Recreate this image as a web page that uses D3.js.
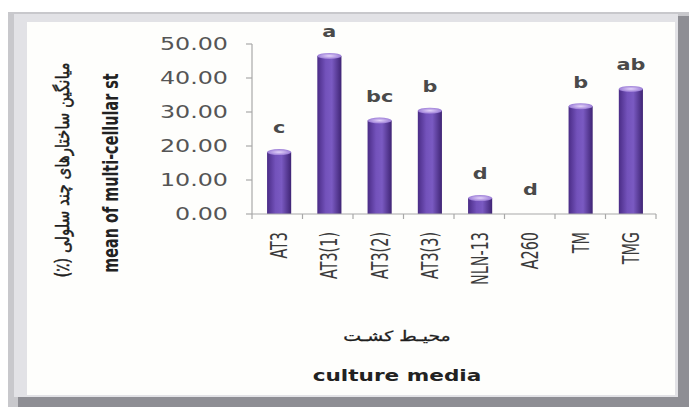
<!DOCTYPE html>
<html>
<head>
<meta charset="utf-8">
<script src="https://cdn.jsdelivr.net/npm/d3@7"></script>
<style>
    html, body { margin: 0; padding: 0; background: #ffffff; }
    svg { display: block; }
</style>
</head>
<body>
<svg id="chart" width="689" height="407"></svg>
<script>
// 数据
const categories = ["AT3", "AT3(1)", "AT3(2)", "AT3(3)", "NLN-13", "A260", "TM", "TMG"];
const values = [18.2, 46.5, 27.5, 30.4, 4.7, 0, 31.7, 36.8];
const letters = ["c", "a", "bc", "b", "d", "d", "b", "ab"];
const yTicks = [0, 10, 20, 30, 40, 50];

const svg = d3.select("#chart");
const W = 689, H = 407;
const SX = 1.4; // 原图水平拉伸

// 画框
svg.append("rect").attr("x", 0).attr("y", 0).attr("width", W).attr("height", H).attr("fill", "#ffffff");
svg.append("rect").attr("x", 8).attr("y", 12).attr("width", 681).attr("height", 395).attr("fill", "#c8c8cc");
svg.append("rect").attr("x", 18).attr("y", 16).attr("width", 671).attr("height", 391).attr("fill", "#8e8e94");
svg.append("rect").attr("x", 14).attr("y", 14).attr("width", 664).attr("height", 383).attr("fill", "#e2e2e6");
svg.append("rect").attr("x", 27).attr("y", 22).attr("width", 648).attr("height", 373).attr("fill", "#fefefc");

// 比例尺
const x = d3.scaleBand().domain(categories).range([254, 656]).paddingInner(0.52).paddingOuter(0.26);
const y = d3.scaleLinear().domain([0, 50]).range([214, 44]);

// 渐变
const defs = svg.append("defs");
const grad = defs.append("linearGradient").attr("id", "barGrad").attr("x1", "0").attr("x2", "1").attr("y1", "0").attr("y2", "0");
grad.append("stop").attr("offset", "0%").attr("stop-color", "#4a2c86");
grad.append("stop").attr("offset", "35%").attr("stop-color", "#7352bb");
grad.append("stop").attr("offset", "60%").attr("stop-color", "#7a5ac2");
grad.append("stop").attr("offset", "100%").attr("stop-color", "#3f2474");
const capGrad = defs.append("radialGradient").attr("id", "capGrad");
capGrad.append("stop").attr("offset", "0%").attr("stop-color", "#e4d4fa");
capGrad.append("stop").attr("offset", "100%").attr("stop-color", "#9a7bd6");

const axisColor = "#a8a8a8";
const textColor = "#4a4a4a";

// 柱子
const bars = svg.append("g").selectAll("g.bar")
    .data(categories.map((c, i) => ({ c, v: values[i], l: letters[i] })))
    .enter().append("g").attr("class", "bar");

bars.filter(d => d.v > 0).append("rect")
    .attr("x", d => x(d.c))
    .attr("y", d => y(d.v))
    .attr("width", x.bandwidth())
    .attr("height", d => y(0) - y(d.v))
    .attr("fill", "url(#barGrad)");

bars.filter(d => d.v > 0).append("ellipse")
    .attr("cx", d => x(d.c) + x.bandwidth() / 2)
    .attr("cy", d => y(d.v))
    .attr("rx", x.bandwidth() / 2)
    .attr("ry", 3)
    .attr("fill", "url(#capGrad)");

// 显著性字母
bars.append("text")
    .attr("transform", d => `translate(${x(d.c) + x.bandwidth() / 2},${y(d.v + 5.5)}) scale(1.3,1)`)
    .attr("text-anchor", "middle")
    .style("font-family", "DejaVu Sans")
    .style("font-weight", "bold")
    .style("font-size", "16px")
    .style("fill", textColor)
    .text(d => d.l);

// Y轴
svg.append("line").attr("x1", 252).attr("x2", 252).attr("y1", y(50)).attr("y2", y(0))
    .attr("stroke", axisColor).attr("stroke-width", 1.2);
const yt = svg.append("g").selectAll("g").data(yTicks).enter().append("g");
yt.append("line").attr("x1", 246).attr("x2", 252).attr("y1", d => y(d)).attr("y2", d => y(d))
    .attr("stroke", axisColor).attr("stroke-width", 1.2);
yt.append("text")
    .attr("transform", d => `translate(228,${y(d)}) scale(${SX},1)`)
    .attr("text-anchor", "end")
    .attr("dy", "0.36em")
    .style("font-family", "DejaVu Sans")
    .style("font-size", "17px")
    .style("fill", "#555555")
    .text(d => d3.format(".2f")(d));

// X轴
svg.append("line").attr("x1", 252).attr("x2", 656).attr("y1", y(0)).attr("y2", y(0))
    .attr("stroke", axisColor).attr("stroke-width", 1.2);
const bounds = d3.range(categories.length + 1).map(i => 252 + i * (656 - 252) / categories.length);
svg.append("g").selectAll("line").data(bounds).enter().append("line")
    .attr("x1", d => d).attr("x2", d => d).attr("y1", y(0)).attr("y2", y(0) + 5)
    .attr("stroke", axisColor).attr("stroke-width", 1.2);

svg.append("g").selectAll("text").data(categories).enter().append("text")
    .attr("transform", d => `translate(${x(d) + x.bandwidth() / 2},232) scale(${SX},1) rotate(-90)`)
    .attr("text-anchor", "end")
    .attr("dy", "0.36em")
    .style("font-family", "DejaVu Sans Condensed, DejaVu Sans")
    .style("font-size", "16px")
    .style("fill", "#3a3a3a")
    .text(d => d);

// 坐标轴标题
svg.append("text")
    .attr("transform", `translate(62,170) scale(1.25,1) rotate(-90)`)
    .attr("text-anchor", "middle")
    .attr("dy", "0.36em")
    .attr("direction", "rtl")
    .style("font-family", "DejaVu Sans")
    .style("font-size", "15px")
    .style("fill", "#1e1e1e")
    .style("stroke", "#1e1e1e")
    .style("stroke-width", "0.4px")
    .text("میانگین ساختارهای چند سلولی (٪)");

svg.append("text")
    .attr("transform", `translate(111,173) scale(1.3,1) rotate(-90)`)
    .attr("text-anchor", "middle")
    .attr("dy", "0.36em")
    .style("font-family", "DejaVu Sans Condensed, DejaVu Sans")
    .style("font-weight", "bold")
    .style("font-size", "16px")
    .style("fill", "#222222")
    .text("mean of multi-cellular st");

svg.append("text")
    .attr("transform", `translate(397,336) scale(1.35,1)`)
    .attr("text-anchor", "middle")
    .attr("dy", "0.36em")
    .attr("direction", "rtl")
    .style("font-family", "DejaVu Sans")
    .style("font-size", "14px")
    .style("fill", "#1e1e1e")
    .style("stroke", "#1e1e1e")
    .style("stroke-width", "0.3px")
    .text("محیـط کشـت");

svg.append("text")
    .attr("transform", `translate(397,381) scale(1.35,1)`)
    .attr("text-anchor", "middle")
    .style("font-family", "DejaVu Sans")
    .style("font-weight", "bold")
    .style("font-size", "16px")
    .style("fill", "#222222")
    .text("culture media");
</script>
</body>
</html>
